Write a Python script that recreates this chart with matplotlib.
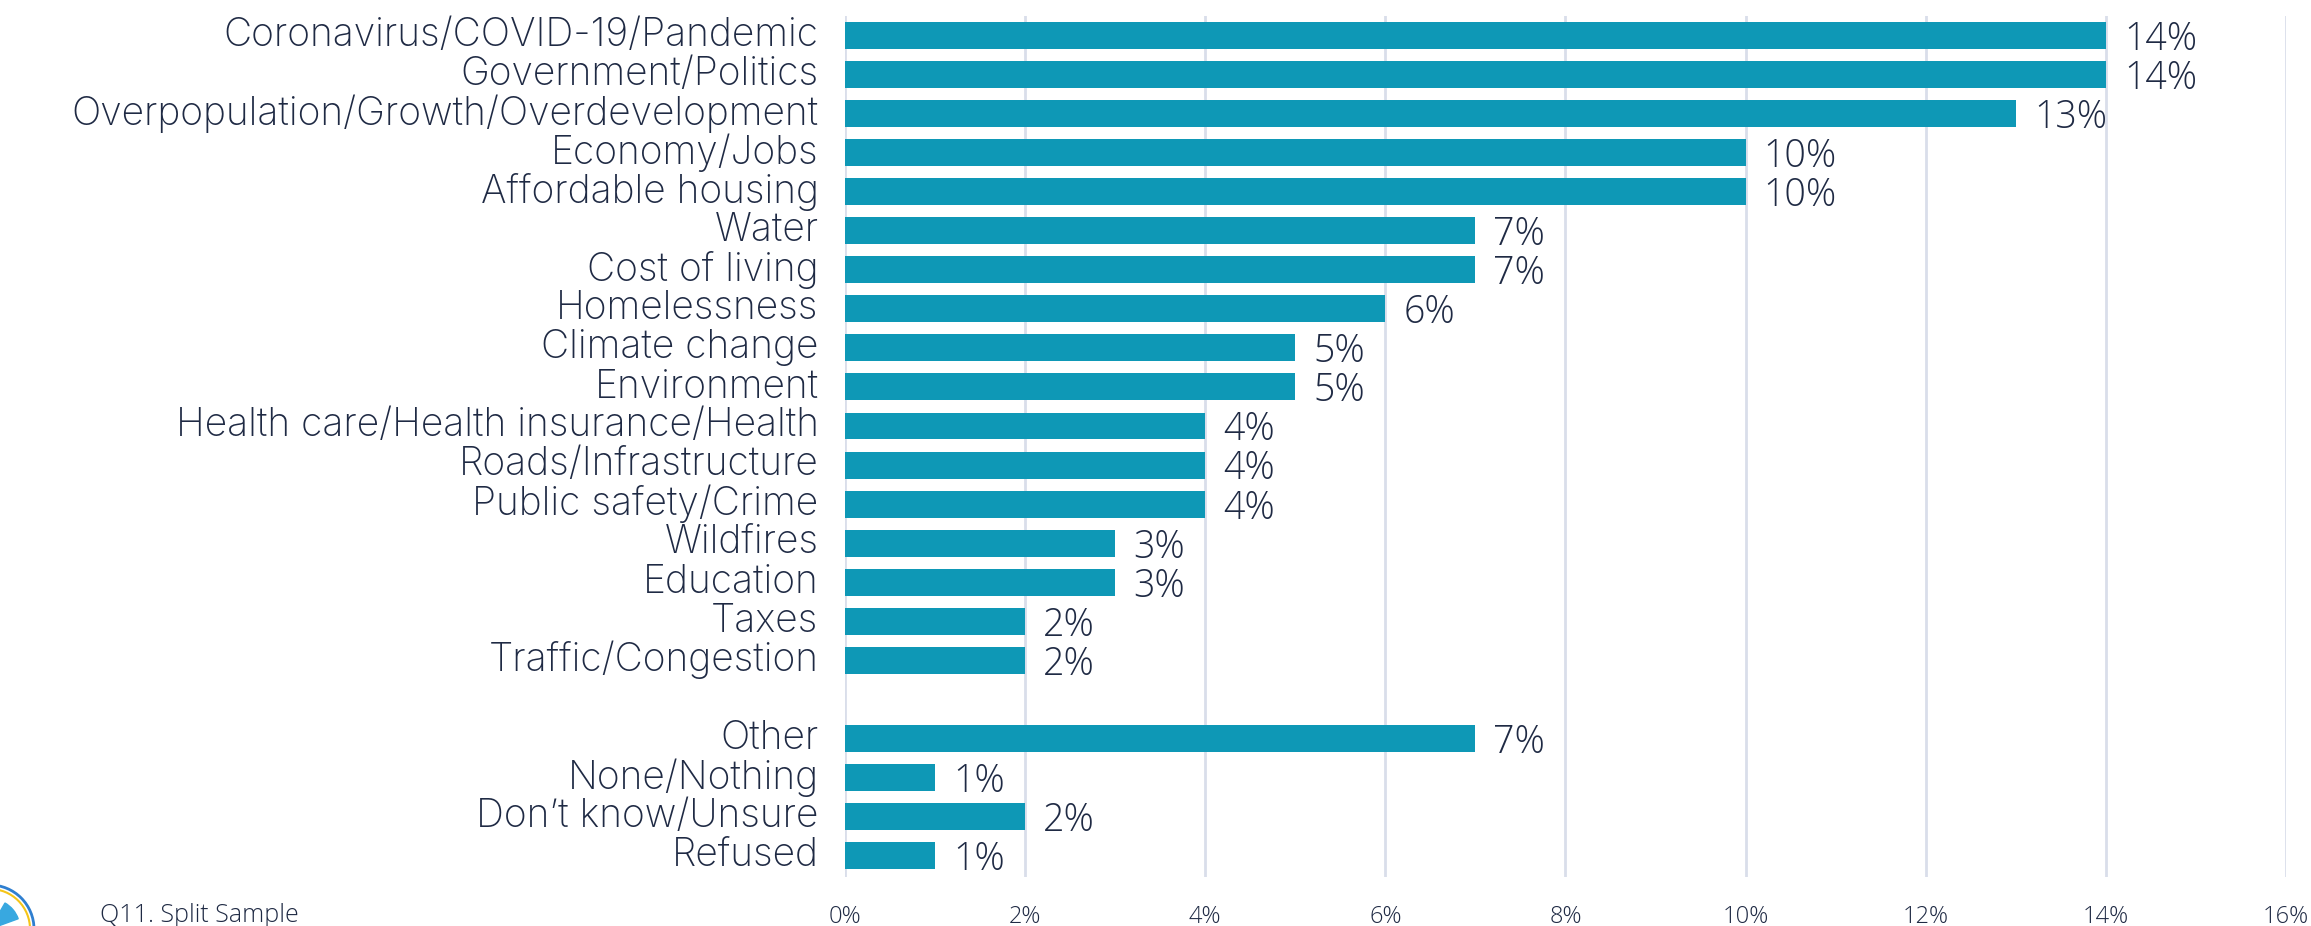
import matplotlib.pyplot as plt
import matplotlib.transforms as mtransforms
from matplotlib.patches import Circle, Wedge

plt.rcParams['font.family'] = ['Open Sans', 'DejaVu Sans']

# data
categories = ['Coronavirus/COVID-19/Pandemic', 'Government/Politics',
              'Overpopulation/Growth/Overdevelopment', 'Economy/Jobs',
              'Affordable housing', 'Water', 'Cost of living', 'Homelessness',
              'Climate change', 'Environment',
              'Health care/Health insurance/Health', 'Roads/Infrastructure',
              'Public safety/Crime', 'Wildfires', 'Education', 'Taxes',
              'Traffic/Congestion']
values = [14, 14, 13, 10, 10, 7, 7, 6, 5, 5, 4, 4, 4, 3, 3, 2, 2]
other_categories = ['Other', 'None/Nothing', 'Don\u2019t know/Unsure', 'Refused']
other_values = [7, 1, 2, 1]
xticks = [0, 2, 4, 6, 8, 10, 12, 14, 16]

bar_color = '#0E98B6'
text_color = '#1F2A44'
grid_color = '#D9DEEA'

labels = categories + other_categories
vals = values + other_values
# leave one empty slot between the two groups
pos = list(range(len(categories))) + [len(categories) + 1 + i for i in range(len(other_categories))]

fig = plt.figure(figsize=(23.11, 9.26), dpi=100)
ax = fig.add_axes([0.3656, 0.0529, 0.6236, 0.9298])

ax.barh(pos, vals, height=0.69, color=bar_color, zorder=3)
for p, v in zip(pos, vals):
    ax.annotate(f'{v}%', (v, p), xytext=(13, -3), textcoords='offset points',
                ha='left', va='center', fontsize=27, color=text_color,
                fontweight='light')

ax.set_xlim(0, 16)
ax.set_ylim(len(categories) + len(other_categories) + 0.55, -0.5)
ax.set_xticks(xticks)
ax.set_xticklabels([f'{t}%' for t in xticks])
ax.set_yticks(pos)
ax.set_yticklabels(labels)
ax.grid(axis='x', color=grid_color, linewidth=2, zorder=0)
for s in ax.spines.values():
    s.set_visible(False)
ax.tick_params(axis='y', length=0, pad=19, labelcolor=text_color)
ax.tick_params(axis='x', length=0, pad=20, labelsize=17, labelcolor=text_color)
shift_up = mtransforms.ScaledTranslation(0, 3 / 72, fig.dpi_scale_trans)
for t in ax.get_yticklabels():
    t.set_fontfamily(['Inter', 'DejaVu Sans'])
    t.set_fontsize(28)
    t.set_fontweight('light')
    t.set_transform(t.get_transform() + shift_up)
for t in ax.get_xticklabels():
    t.set_fontweight('light')

fig.text(100 / 2311, 1 - 915 / 926, 'Q11. Split Sample', fontsize=18,
         color=text_color, fontweight='light', va='center', ha='left')

# partial logo at bottom-left corner
logo = fig.add_axes([0, 0, 1, 1], zorder=-1)
logo.set_xlim(0, 2311)
logo.set_ylim(926, 0)
logo.axis('off')
logo.add_patch(Circle((-10, 929), 44, fill=False, edgecolor='#2F7FD0', linewidth=2))
logo.add_patch(Circle((-10, 929), 40, fill=False, edgecolor='#F5C518', linewidth=1.5))
logo.add_patch(Wedge((-10, 929), 30, 300, 340, color='#38A8E0'))

fig.savefig('out.png', dpi=100)
